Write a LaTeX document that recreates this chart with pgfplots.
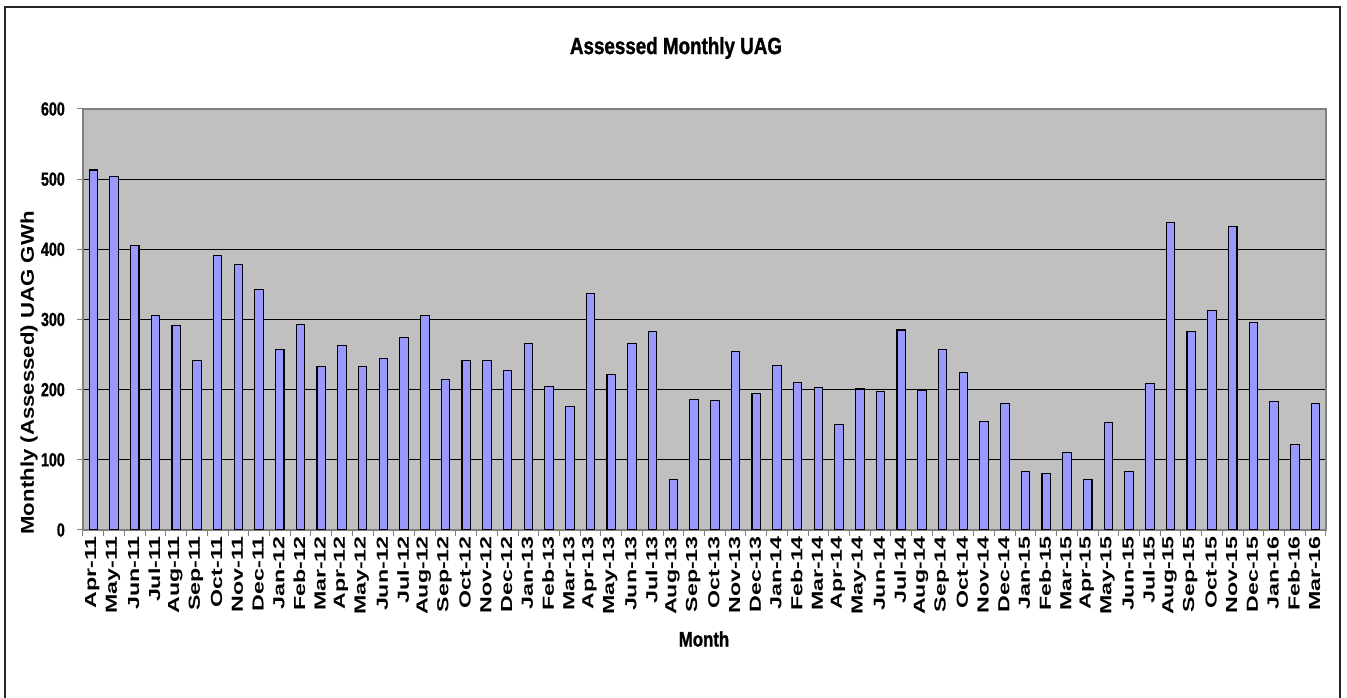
\documentclass[border=0pt]{standalone}
\usepackage{fontspec}
\usepackage{pgfplots}
\pgfplotsset{compat=1.18}
\newfontfamily\narrowfont[FakeStretch=0.8, BoldFeatures={FakeBold=1.2}]{Liberation Sans}
\newfontfamily\ticknarrow[FakeStretch=0.75, BoldFeatures={FakeBold=1.0}]{Liberation Sans}
\newfontfamily\tallfont[FakeStretch=1.45]{Liberation Sans}
\newfontfamily\ylabfont[FakeStretch=1.2]{Liberation Sans}
\definecolor{barblue}{HTML}{9999FF}
\definecolor{plotgray}{HTML}{C0C0C0}
\definecolor{framegray}{HTML}{808080}
\pgfplotstableread{
x y
0 513
1 504
2 406
3 306
4 292
5 242
6 391
7 378
8 343
9 257
10 293
11 233
12 263
13 233
14 245
15 274
16 306
17 215
18 242
19 242
20 227
21 266
22 204
23 176
24 337
25 221
26 266
27 283
28 72
29 186
30 185
31 254
32 194
33 234
34 210
35 203
36 150
37 201
38 197
39 285
40 199
41 257
42 224
43 154
44 180
45 84
46 81
47 111
48 72
49 153
50 84
51 209
52 438
53 283
54 313
55 432
56 296
57 183
58 122
59 180
}\uagdata
\begin{document}
\begin{tikzpicture}[x=1pt,y=1pt]
\useasboundingbox (0,0) rectangle (1347,698);
\draw[line width=1.3pt, black!85] (5,-5) -- (5,691) -- (1340,691) -- (1340,-5);
\node[font=\narrowfont\bfseries\fontsize{23.5}{25}\selectfont] at (676,650) {Assessed Monthly UAG};
\node[font=\ylabfont\bfseries\fontsize{18.5}{20}\selectfont, rotate=90] at (29,325) {Monthly (Assessed) UAG GWh};
\node[font=\narrowfont\bfseries\fontsize{21}{23}\selectfont] at (704,59) {Month};
\begin{axis}[
  at={(83pt,168pt)}, anchor=south west,
  scale only axis, width=1243pt, height=421pt,
  xmin=-0.5, xmax=59.5, ymin=0, ymax=600,
  ytick={0,100,...,600},
  xtick={0,...,59},
  xticklabels={Apr-11,May-11,Jun-11,Jul-11,Aug-11,Sep-11,Oct-11,Nov-11,Dec-11,Jan-12,Feb-12,Mar-12,
               Apr-12,May-12,Jun-12,Jul-12,Aug-12,Sep-12,Oct-12,Nov-12,Dec-12,Jan-13,Feb-13,Mar-13,
               Apr-13,May-13,Jun-13,Jul-13,Aug-13,Sep-13,Oct-13,Nov-13,Dec-13,Jan-14,Feb-14,Mar-14,
               Apr-14,May-14,Jun-14,Jul-14,Aug-14,Sep-14,Oct-14,Nov-14,Dec-14,Jan-15,Feb-15,Mar-15,
               Apr-15,May-15,Jun-15,Jul-15,Aug-15,Sep-15,Oct-15,Nov-15,Dec-15,Jan-16,Feb-16,Mar-16},
  minor xtick={-0.5,0.5,...,59.5},
  tick pos=left,
  tick align=outside,
  major tick length=6pt,
  minor tick length=6pt,
  major x tick style={draw=none},
  minor x tick style={framegray, line width=1pt},
  major y tick style={framegray, line width=1pt},
  ymajorgrids,
  major grid style={black, line width=0.9pt},
  axis line style={framegray, line width=1.3pt},
  axis background/.style={fill=plotgray},
  /pgf/number format/assume math mode=true,
  yticklabel style={font=\ticknarrow\bfseries\fontsize{19}{19}\selectfont, anchor=east, inner sep=0pt, xshift=-12pt},
  xticklabel style={font=\tallfont\bfseries\fontsize{16}{16}\selectfont, rotate=90, anchor=east, inner sep=0pt, yshift=1pt},
]
\addplot[ybar, bar width=8.5pt, fill=barblue, draw=black, line width=1.1pt] table[x=x, y=y] {\uagdata};
\end{axis}
\end{tikzpicture}
\end{document}
